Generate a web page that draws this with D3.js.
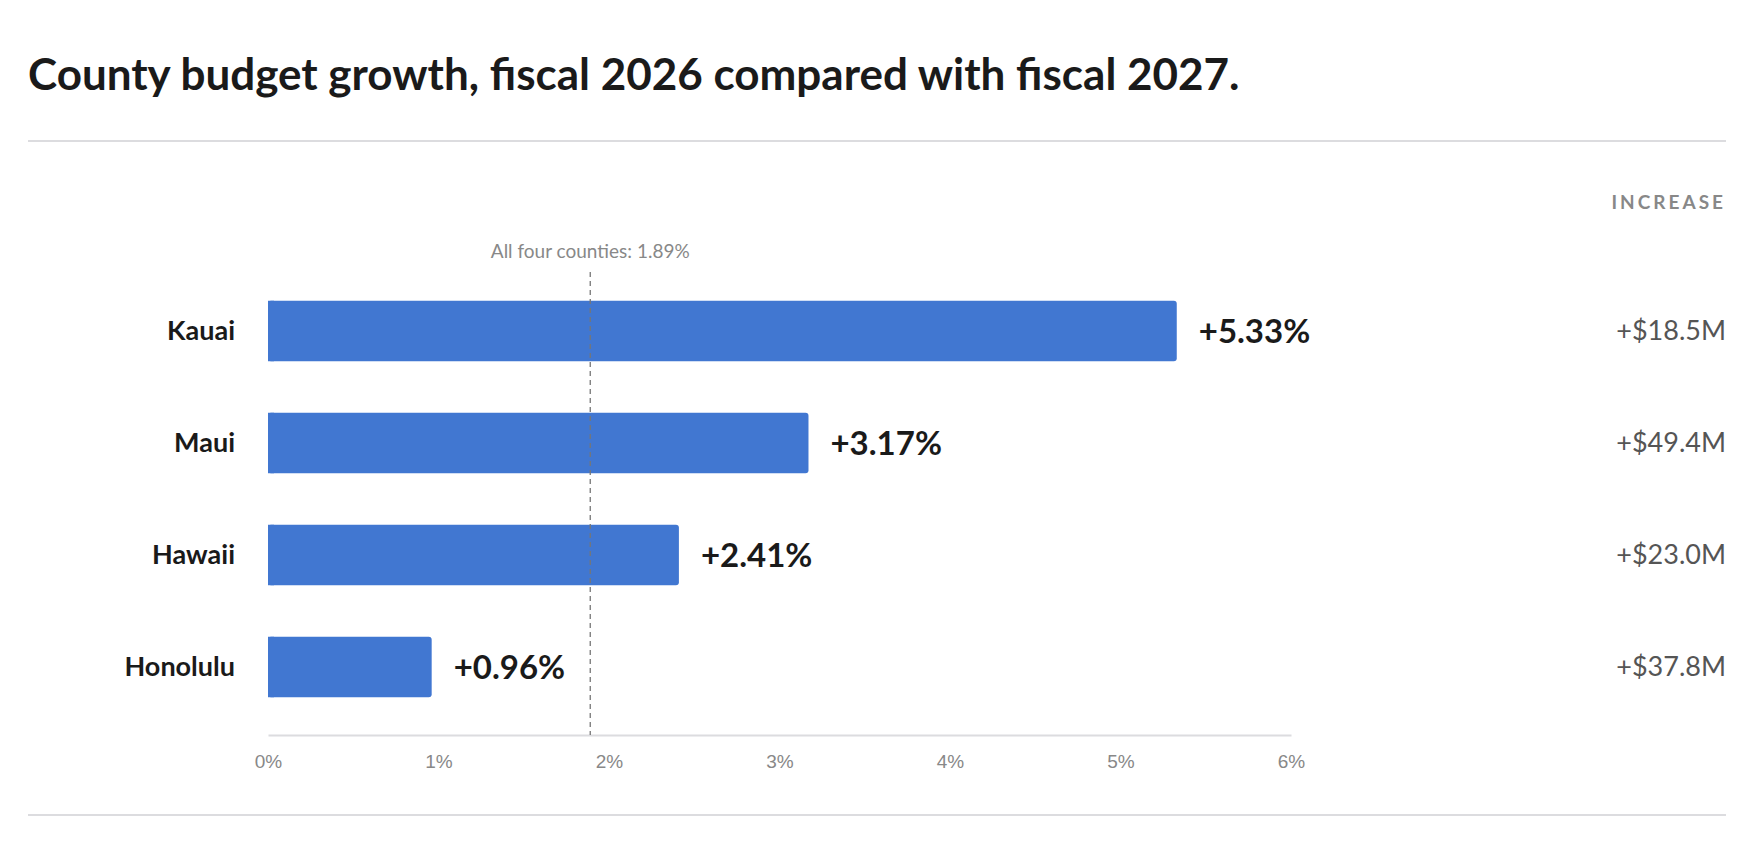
<!DOCTYPE html>
<html>
<head>
<meta charset="UTF-8"/>
<script src="https://d3js.org/d3.v7.min.js"></script>
<style>
body { margin: 0; background: #fff; font-family: 'Lato', sans-serif; }
svg { display: block; }
.title { font-size: 44px; font-weight: 700; fill: #1a1a1a; }
.rule { stroke: #dcdcdf; stroke-width: 2; }
.county { font-size: 27px; font-weight: 700; fill: #1a1a1a; }
.pct { font-size: 33px; font-weight: 700; fill: #1a1a1a; }
.amt { font-size: 27px; fill: #555; }
.head { font-size: 19px; font-weight: 700; fill: #888; letter-spacing: 3px; }
.ref { font-size: 19px; fill: #888; }
.tick text { font-size: 19px; fill: #888; }
</style>
</head>
<body>
<svg width="1758" height="850"></svg>
<script>
const counties = ['Kauai', 'Maui', 'Hawaii', 'Honolulu'];
const growth = [5.33, 3.17, 2.41, 0.96];
const increase = ['+$18.5M', '+$49.4M', '+$23.0M', '+$37.8M'];
const average = 1.89;
const ticks = [0, 1, 2, 3, 4, 5, 6];

const svg = d3.select('svg');

svg.append('text').attr('class', 'title').attr('x', 28).attr('y', 90)
  .text('County budget growth, fiscal 2026 compared with fiscal 2027.');
svg.append('line').attr('class', 'rule').attr('x1', 28).attr('x2', 1726).attr('y1', 141).attr('y2', 141);
svg.append('line').attr('class', 'rule').attr('x1', 28).attr('x2', 1726).attr('y1', 815).attr('y2', 815);

const x = d3.scaleLinear().domain([0, 6]).range([268, 1291]);
const y = d3.scaleBand().domain(counties).range([275, 723]).paddingInner(0.46).paddingOuter(0.23);

// axis
const axis = svg.append('g').attr('transform', 'translate(0,735)')
  .call(d3.axisBottom(x).tickValues(ticks).tickFormat(d => d + '%').tickSize(0).tickPadding(20));
axis.select('.domain').attr('stroke', '#dcdcdf').attr('stroke-width', 2);

svg.append('text').attr('class', 'head').attr('x', 1726).attr('y', 209)
  .attr('text-anchor', 'end').text('INCREASE');

const rows = counties.map((c, i) => ({ c, g: growth[i], inc: increase[i] }));

svg.selectAll('rect.bar').data(rows).enter().append('rect')
  .attr('x', x(0)).attr('y', d => y(d.c))
  .attr('width', d => x(d.g) - x(0)).attr('height', y.bandwidth())
  .attr('fill', '#4177d1').attr('rx', 3);
// square off left corners
svg.selectAll('rect.sq').data(rows).enter().append('rect')
  .attr('x', x(0)).attr('y', d => y(d.c))
  .attr('width', 6).attr('height', y.bandwidth()).attr('fill', '#4177d1');

// average reference line
svg.append('line').attr('x1', x(average)).attr('x2', x(average))
  .attr('y1', 272).attr('y2', 735)
  .attr('stroke', '#777').attr('stroke-width', 1.3).attr('stroke-dasharray', '5 4');
svg.append('text').attr('class', 'ref').attr('x', x(average)).attr('y', 258)
  .attr('text-anchor', 'middle').text('All four counties: ' + average + '%');

const mid = d => y(d.c) + y.bandwidth() / 2;
svg.selectAll('text.county').data(rows).enter().append('text').attr('class', 'county')
  .attr('x', 235).attr('y', mid).attr('dy', '0.35em').attr('text-anchor', 'end').text(d => d.c);
svg.selectAll('text.pct').data(rows).enter().append('text').attr('class', 'pct')
  .attr('x', d => x(d.g) + 22).attr('y', mid).attr('dy', '0.35em').text(d => '+' + d.g.toFixed(2) + '%');
svg.selectAll('text.amt').data(rows).enter().append('text').attr('class', 'amt')
  .attr('x', 1726).attr('y', mid).attr('dy', '0.35em').attr('text-anchor', 'end').text(d => d.inc);
</script>
</body>
</html>
